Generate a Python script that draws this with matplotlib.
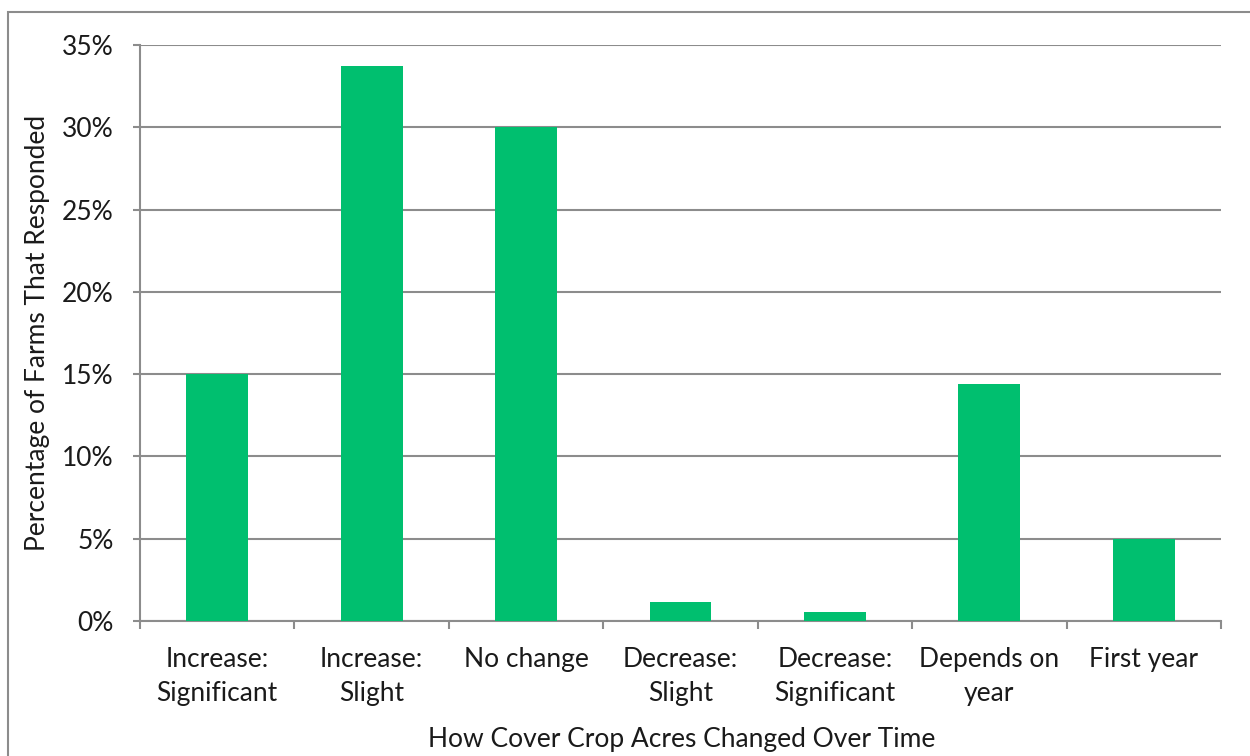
import matplotlib
matplotlib.use("Agg")
import matplotlib.pyplot as plt
from matplotlib.patches import Rectangle
from matplotlib.ticker import FixedLocator, PercentFormatter

categories = ["Increase:\nSignificant", "Increase:\nSlight", "No change",
              "Decrease:\nSlight", "Decrease:\nSignificant", "Depends on\nyear",
              "First year"]
percent_farms = [15.0, 33.7, 30.0, 1.15, 0.55, 14.4, 5.0]
y_ticks = [0, 5, 10, 15, 20, 25, 30, 35]

GREEN = "#00BF6F"
GRAY = "#8C8C8C"
TEXT = "#1a1a1a"
FS = 19
plt.rcParams["font.family"] = ["Lato", "DejaVu Sans"]

W, H = 1250, 756
fig = plt.figure(figsize=(W / 100, H / 100), dpi=100)
ax = fig.add_axes([140 / W, 1 - 621 / H, (1221 - 140) / W, (621 - 45) / H])

x = list(range(len(categories)))
ax.bar(x, percent_farms, width=0.4, color=GREEN, zorder=3)

ax.set_xlim(-0.5, len(categories) - 0.5)
ax.set_ylim(0, 35)
ax.yaxis.set_major_locator(FixedLocator(y_ticks))
ax.yaxis.set_major_formatter(PercentFormatter(decimals=0))
ax.grid(axis="y", color=GRAY, linewidth=1.5, zorder=0)

# category labels at bar centres, tick marks on the category boundaries
ax.set_xticks(x)
ax.set_xticklabels(categories, fontsize=FS, color=TEXT, linespacing=1.42)
ax.tick_params(axis="x", which="major", length=0, pad=19)
ax.set_xticks([i - 0.5 for i in range(len(categories) + 1)], minor=True)
ax.tick_params(axis="x", which="minor", length=6, width=1.5, color=GRAY)
ax.tick_params(axis="y", length=5, width=1.5, color=GRAY, labelsize=FS,
               labelcolor=TEXT, pad=14)

for side in ("top", "right"):
    ax.spines[side].set_visible(False)
for side in ("left", "bottom"):
    ax.spines[side].set_color(GRAY)
    ax.spines[side].set_linewidth(1.5)

fig.text(38 / W, 1 - 333 / H, "Percentage of Farms That Responded",
         rotation=90, ha="center", va="center", fontsize=FS, color=TEXT)
fig.text(682 / W, 1 - 739 / H, "How Cover Crop Acres Changed Over Time",
         ha="center", va="center", fontsize=FS, color=TEXT)

# chart frame
fig.patches.append(Rectangle((8 / W, -0.05), 1.1, 1 - 12 / H + 0.05,
                             transform=fig.transFigure, fill=False,
                             edgecolor=GRAY, linewidth=1.5))

fig.savefig("out.png", dpi=100)
